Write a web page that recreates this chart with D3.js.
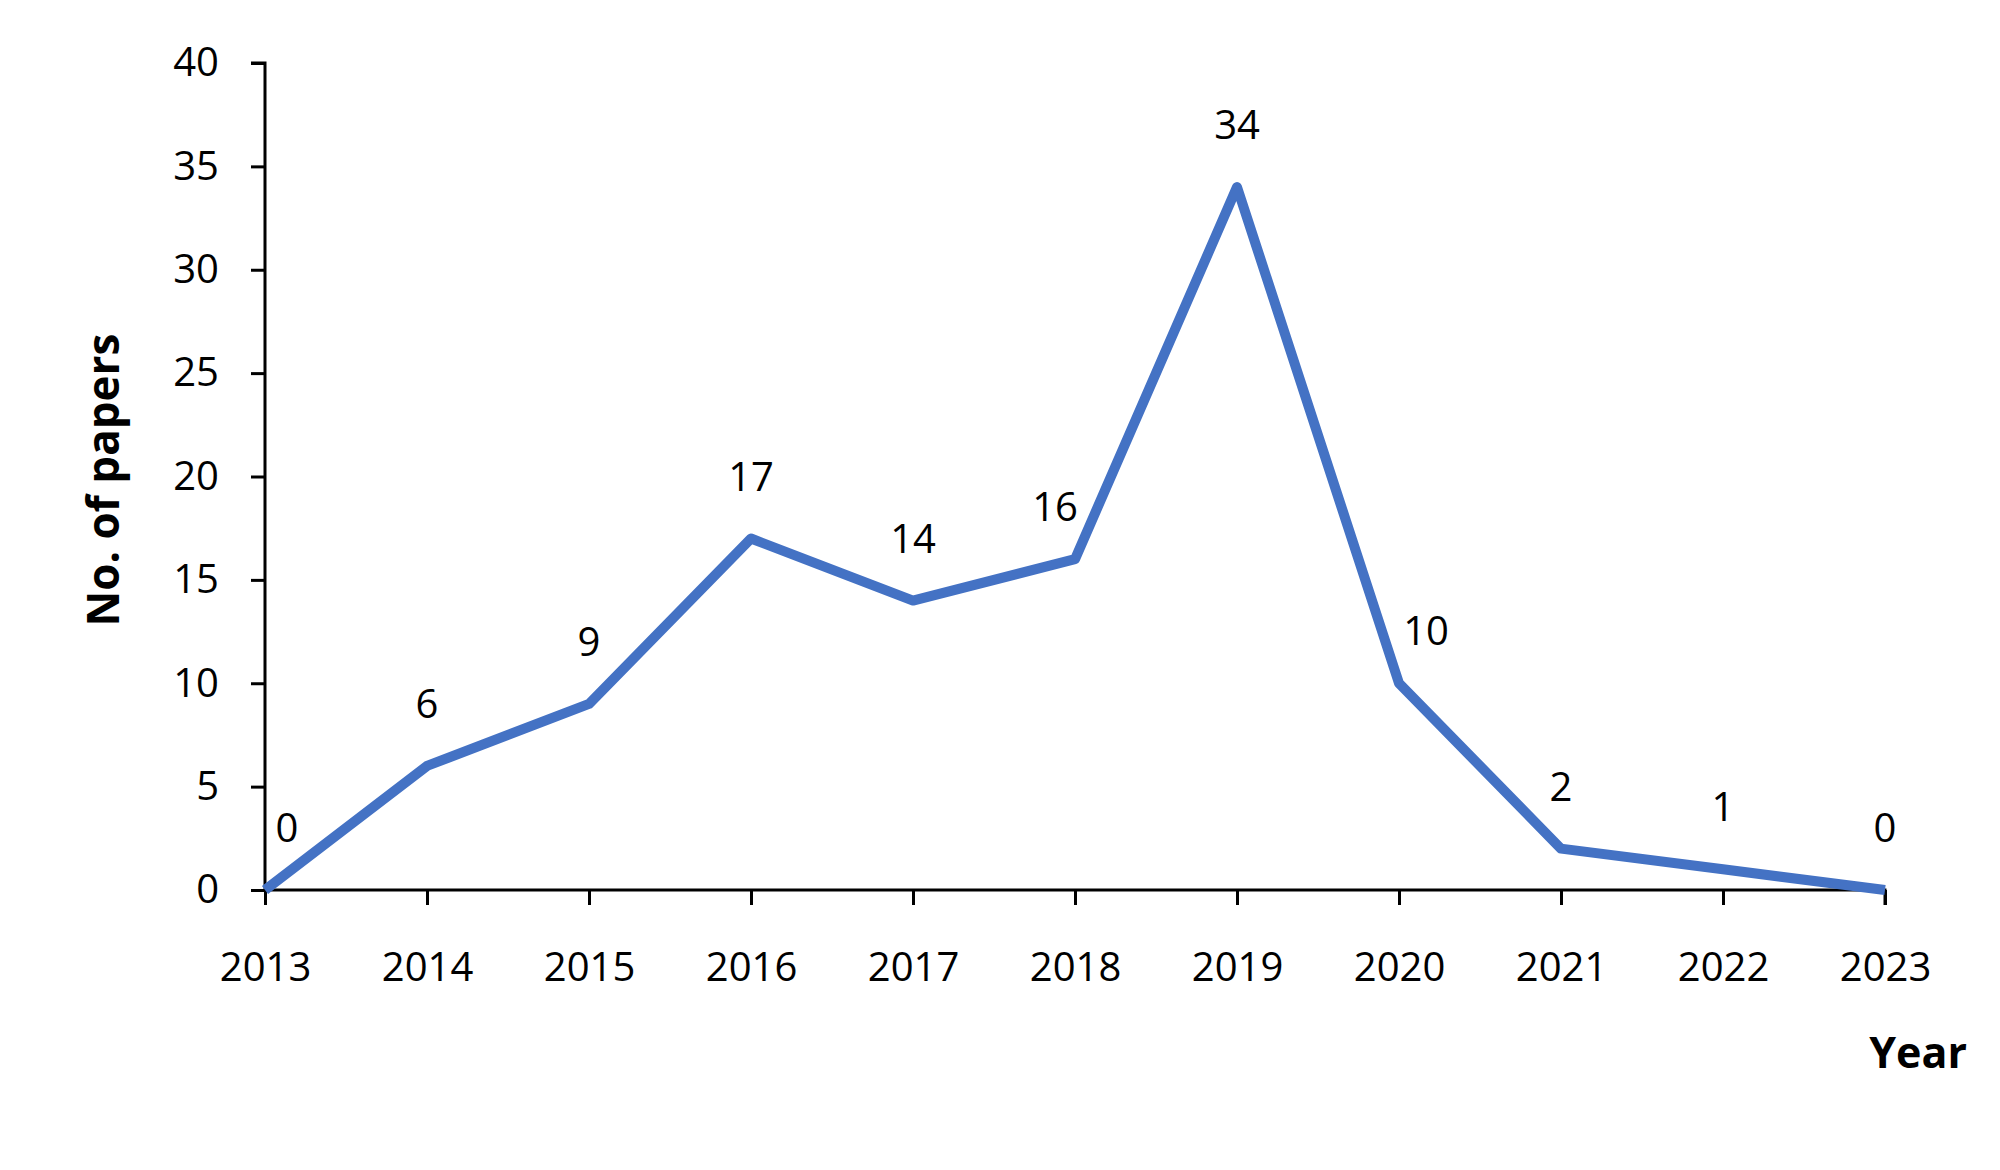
<!DOCTYPE html>
<html>
<head>
<meta charset="utf-8">
<script src="https://cdn.jsdelivr.net/npm/d3@7/dist/d3.min.js"></script>
<style>
  html, body { margin: 0; padding: 0; background: #ffffff; }
  svg { display: block; }
</style>
</head>
<body>
<svg id="chart" width="2000" height="1170"></svg>
<script>
// ---- data ----
const years = [2013, 2014, 2015, 2016, 2017, 2018, 2019, 2020, 2021, 2022, 2023];
const papers = [0, 6, 9, 17, 14, 16, 34, 10, 2, 1, 0];
const yTicks = [0, 5, 10, 15, 20, 25, 30, 35, 40];
const xTitle = "Year";
const yTitle = "No. of papers";

// ---- layout ----
const svg = d3.select("#chart");
const font = "'Open Sans', 'DejaVu Sans', sans-serif";
const x = d3.scaleLinear().domain([2013, 2023]).range([265, 1885]);
const y = d3.scaleLinear().domain([0, 40]).range([890, 63]);

// y axis
const yAxis = d3.axisLeft(y).tickValues(yTicks).tickSize(14).tickPadding(32).tickFormat(d3.format("d"));
const gy = svg.append("g").attr("transform", "translate(265,0)").call(yAxis);
gy.select(".domain").attr("stroke", "#000").attr("stroke-width", 3).attr("d", "M-14,63H0V890");
gy.selectAll(".tick line").attr("stroke", "#000").attr("stroke-width", 3);
gy.selectAll(".tick text").attr("font-family", font).attr("font-size", 40).attr("fill", "#000");

// x axis
const xAxis = d3.axisBottom(x).tickValues(years).tickSize(15).tickPadding(48).tickFormat(d3.format("d"));
const gx = svg.append("g").attr("transform", "translate(0,890)").call(xAxis);
gx.select(".domain").attr("stroke", "#000").attr("stroke-width", 3).attr("d", "M265,0H1885V15");
gx.selectAll(".tick line").attr("stroke", "#000").attr("stroke-width", 3);
gx.selectAll(".tick text").attr("font-family", font).attr("font-size", 40).attr("fill", "#000");

// line
const data = years.map((yr, i) => ({ yr, v: papers[i] }));
const line = d3.line().x(d => x(d.yr)).y(d => y(d.v));
svg.append("path")
  .datum(data)
  .attr("d", line)
  .attr("fill", "none")
  .attr("stroke", "#4472C4")
  .attr("stroke-width", 10)
  .attr("stroke-linejoin", "round")
  .attr("stroke-linecap", "butt");

// data labels (with small manual nudges as in the original)
const nudge = { 2013: [22, 0], 2018: [-20, 10], 2020: [27, 10] };
svg.append("g").selectAll("text")
  .data(data)
  .join("text")
  .attr("x", d => x(d.yr) + (nudge[d.yr] ? nudge[d.yr][0] : 0))
  .attr("y", d => y(d.v) - 48 + (nudge[d.yr] ? nudge[d.yr][1] : 0))
  .attr("text-anchor", "middle")
  .attr("font-family", font)
  .attr("font-size", 40)
  .attr("fill", "#000")
  .text(d => d.v);

// axis titles
svg.append("text")
  .attr("x", 1967).attr("y", 1068)
  .attr("text-anchor", "end")
  .attr("font-family", font).attr("font-weight", "bold").attr("font-size", 43)
  .attr("fill", "#000")
  .text(xTitle);

svg.append("text")
  .attr("transform", "translate(119,480) rotate(-90)")
  .attr("text-anchor", "middle")
  .attr("font-family", font).attr("font-weight", "bold").attr("font-size", 44)
  .attr("fill", "#000")
  .text(yTitle);
</script>
</body>
</html>
